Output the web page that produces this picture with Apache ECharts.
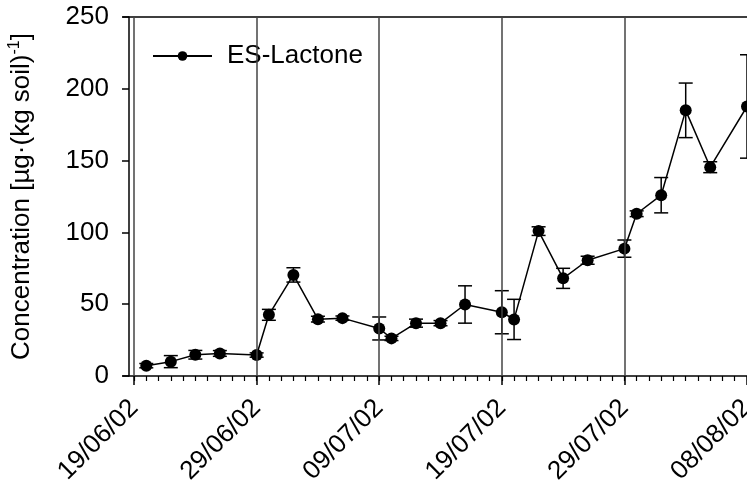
<!DOCTYPE html>
<html><head><meta charset="utf-8">
<script src="https://cdn.jsdelivr.net/npm/echarts@6/dist/echarts.min.js"></script>
<style>html,body{margin:0;padding:0;background:#fff}#c{width:747px;height:487px}</style>
</head><body><div id="c"></div>
<script>
// ---- data ----
const startDate = '19/06/02';
const sampleDates = ['20/06/02','22/06/02','24/06/02','26/06/02','29/06/02','30/06/02','02/07/02','04/07/02','06/07/02',
  '09/07/02','10/07/02','12/07/02','14/07/02','16/07/02','19/07/02','20/07/02','22/07/02','24/07/02','26/07/02',
  '29/07/02','30/07/02','01/08/02','03/08/02','05/08/02','08/08/02'];
const concentration = [7.2,10,14.8,15.7,14.6,42.6,70.4,39.6,40.3,33.1,26.2,36.8,36.8,49.8,44.4,39.4,100.9,68,80.6,88.7,113,125.9,185,145.4,187.7];
const stdError = [1.5,4.2,3,2,1.5,3.8,5,2,1.5,8,1.5,2.8,1.8,13,15,14,3,7,2.8,6,2,12.3,19,3.8,36];
const xTickLabels = ['19/06/02','29/06/02','09/07/02','19/07/02','29/07/02','08/08/02'];
const yTicks = [0,50,100,150,200,250];
const seriesName = 'ES-Lactone';
const yAxisTitle = ['Concentration [µg·(kg soil)', '-1', ']'];

// ---- helpers ----
function parseDate(s){ const [d,m,y] = s.split('/').map(Number); return Date.UTC(2000+y, m-1, d); }
const t0 = parseDate(startDate);
const toDay = s => Math.round((parseDate(s) - t0) / 86400000);
const days = sampleDates.map(toDay);
const tickDays = xTickLabels.map(toDay);
const minorDays = []; for (let d = tickDays[0]; d <= tickDays[tickDays.length-1]; d++) minorDays.push(d);

const FONT = "'Liberation Sans', Arial, sans-serif";
const FS = 26;
const lineData = days.map((d,i)=>[d, concentration[i]]);
const errData = days.map((d,i)=>[d, concentration[i]-stdError[i], concentration[i]+stdError[i]]);
const xMin = -0.9, xMax = tickDays[tickDays.length-1];

const chart = echarts.init(document.getElementById('c'), null, {renderer:'canvas'});
chart.setOption({
  animation: false,
  backgroundColor: '#fff',
  textStyle: {fontFamily: FONT},
  grid: {left: 123, right: 0, top: 17, bottom: 111, containLabel: false, outerBoundsMode: 'none'},
  legend: {
    data: [seriesName], left: 147, top: 38, itemWidth: 59, itemHeight: 12,
    textStyle: {fontSize: FS, color: '#000', fontFamily: FONT, padding: [0,0,0,10]}
  },
  xAxis: [
    {
      type: 'value', position: 'bottom', min: xMin, max: xMax,
      axisLine: {show: true, onZero: false, lineStyle: {color: '#000', width: 1.5}},
      axisTick: {show: true, length: 9, customValues: tickDays, lineStyle: {color: '#000', width: 1.5}},
      axisLabel: {show: true, customValues: tickDays, rotate: 45, margin: 28, fontSize: FS, color: '#000', fontFamily: FONT,
        formatter: v => { const i = tickDays.indexOf(Math.round(v)); return i >= 0 ? xTickLabels[i] : ''; }},
      splitLine: {show: false}
    },
    {
      type: 'value', position: 'bottom', min: xMin, max: xMax,
      axisLine: {show: false, onZero: false},
      axisTick: {show: true, length: 5, customValues: minorDays, lineStyle: {color: '#000', width: 1.2}},
      axisLabel: {show: false}, splitLine: {show: false}
    },
    {
      type: 'value', position: 'top', min: xMin, max: xMax,
      axisLine: {show: true, onZero: false, lineStyle: {color: '#000', width: 1.5}},
      axisTick: {show: false}, axisLabel: {show: false}, splitLine: {show: false}
    }
  ],
  yAxis: {
    type: 'value', min: yTicks[0], max: yTicks[yTicks.length-1], interval: 50, offset: -6,
    axisLine: {show: true, onZero: false, lineStyle: {color: '#000', width: 1.5}},
    axisTick: {show: true, length: 7, lineStyle: {color: '#000', width: 1.5}},
    axisLabel: {fontSize: FS, color: '#000', margin: 20, fontFamily: FONT},
    splitLine: {show: false},
    name: '{a|' + yAxisTitle[0] + '}{s|' + yAxisTitle[1] + '}{a|' + yAxisTitle[2] + '}',
    nameLocation: 'middle', nameGap: 92, nameRotate: 90,
    nameTextStyle: {
      color: '#000', fontFamily: FONT,
      rich: {
        a: {fontSize: FS, lineHeight: 30, color: '#000', fontFamily: FONT},
        s: {fontSize: 16, lineHeight: 30, verticalAlign: 'top', color: '#000', fontFamily: FONT}
      }
    }
  },
  series: [
    {
      name: 'grid', type: 'line', data: [], silent: true, z: 1,
      markLine: {
        silent: true, symbol: ['none','none'], label: {show: false},
        lineStyle: {color: '#444', width: 1.5, type: 'solid'},
        data: tickDays.slice(0, -1).map(d => ({xAxis: d}))
      }
    },
    {
      name: 'err', type: 'custom', z: 2, silent: true,
      encode: {x: 0, y: [1, 2]},
      data: errData,
      renderItem: function(params, api){
        const x = api.value(0);
        const lo = api.coord([x, api.value(1)]);
        const hi = api.coord([x, api.value(2)]);
        const w = 7;
        const st = {stroke: '#000', lineWidth: 1.5};
        return {type: 'group', children: [
          {type: 'line', shape: {x1: lo[0], y1: lo[1], x2: hi[0], y2: hi[1]}, style: st},
          {type: 'line', shape: {x1: hi[0]-w, y1: hi[1], x2: hi[0]+w, y2: hi[1]}, style: st},
          {type: 'line', shape: {x1: lo[0]-w, y1: lo[1], x2: lo[0]+w, y2: lo[1]}, style: st}
        ]};
      }
    },
    {
      name: seriesName, type: 'line', z: 3, data: lineData,
      symbol: 'circle', symbolSize: 12, showAllSymbol: true,
      itemStyle: {color: '#000'}, lineStyle: {color: '#000', width: 1.5},
      clip: false
    }
  ]
});
</script>
</body></html>
